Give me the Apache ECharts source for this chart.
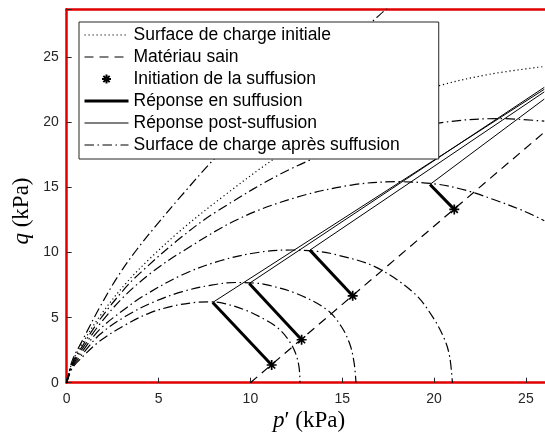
<!DOCTYPE html>
<html>
<head>
<meta charset="utf-8">
<script src="https://cdn.jsdelivr.net/npm/echarts@6/dist/echarts.min.js"></script>
<style>
html, body { margin: 0; padding: 0; background: #fff; }
#chart { width: 545px; height: 432px; }
</style>
</head>
<body>
<div id="chart"></div>
<script>
// graduations (kPa)
const pTicks = [0, 5, 10, 15, 20, 25]
const qTicks = [0, 5, 10, 15, 20, 25]

// surface de charge initiale (p', q)
const surfaceInitiale = [[0, 0], [0.3, 1.6], [0.8, 2.9], [1.8, 5.1], [3.2, 7.6], [4.5, 9.5], [6.2, 11.7], [8.5, 14.3], [11.6, 17.5], [14, 19.5], [17, 21.3], [20.2, 22.8], [23, 23.7], [26, 24.3]]

// surfaces de charge après suffusion, de la plus petite à la plus grande
const surfaceApres1 = [[0, 0], [0.3, 1.1], [0.8, 1.9], [1.8, 3.2], [3.2, 4.45], [4.5, 5.35], [5.8, 5.9], [7.0, 6.17], [7.8, 6.22], [8.6, 6.08], [9.76, 5.56], [10.8, 4.85], [11.5, 4.2], [12.07, 3.3], [12.45, 2.3], [12.65, 1.2], [12.7, 0]]
const surfaceApres2 = [[0, 0], [0.3, 1.2], [0.8, 2.1], [1.8, 3.7], [3.2, 5.1], [4.73, 6.2], [6.3, 7.0], [7.88, 7.5], [9.2, 7.7], [10.24, 7.66], [11.03, 7.48], [12.6, 6.8], [14.18, 5.6], [14.96, 4.3], [15.43, 2.9], [15.65, 1.5], [15.75, 0]]
const surfaceApres3 = [[0, 0], [0.3, 1.3], [0.8, 2.3], [1.8, 4.1], [3.15, 5.65], [4.2, 6.68], [6.3, 8.3], [8.4, 9.39], [10.5, 10.03], [12.24, 10.2], [13.65, 10.09], [14.7, 9.83], [16.8, 8.9], [18.9, 6.9], [19.95, 5.0], [20.58, 3.3], [20.85, 2.0], [21, 0]]
const surfaceApres4 = [[0, 0], [0.3, 1.4], [0.8, 2.5], [1.8, 4.5], [3.1, 6.6], [4.65, 8.5], [6.2, 10.0], [9.3, 12.55], [12.4, 14.2], [15.5, 15.19], [18.07, 15.45], [20.15, 15.26], [21.7, 14.8], [23.2, 14.1], [24.8, 13.25], [26, 12.45]]
const surfaceApres5 = [[0, 0], [0.3, 1.5], [0.8, 2.7], [1.8, 4.85], [3.2, 7.3], [4.05, 8.5], [6.08, 11.0], [8.1, 13.1], [12.15, 16.4], [16.2, 18.65], [20.25, 19.95], [23.6, 20.3], [26, 20.1]]
const surfaceApres6 = [[0, 0], [0.3, 1.7], [0.8, 3.1], [1.8, 5.8], [2.8, 8.2], [3.8, 10.2], [5.0, 12.3], [6.2, 14.3], [8.3, 17.6], [10.5, 20.5], [12.5, 23.0], [14.5, 25.3], [16.5, 27.6], [17.3, 28.6], [18, 29.45]]

// droite du matériau sain
const materiauSain = [[10, 0], [26, 19.25]]
// points d'initiation de la suffusion
const initiation = [[11.16, 1.36], [12.79, 3.3], [15.57, 6.68], [21.1, 13.32]]
// fin de la réponse en suffusion (sommets)
const sommets = [[7.95, 6.17], [9.94, 7.63], [13.24, 10.19], [19.78, 15.24]]
// fin des réponses post-suffusion (bord droit)
const finsPost = [[26, 22.55], [26, 22.7], [26, 22.35], [26, 21.8]]

const noir = '#000'
const rouge = '#e00000'
const gris = '#262626'
const invisible = 'rgba(0,0,0,0)'
const tiretPoint = [9.5, 3.5, 1.5, 3.5]
const asterisque = 'path://M5,0L5,10M0,5L10,5M1.5,1.5L8.5,8.5M1.5,8.5L8.5,1.5'

// pas de symbole dans la légende pour les courbes
const courbe = (name, data, lineStyle, smooth) => ({
  name, type: 'line', data, symbol: 'none', smooth: smooth || false,
  itemStyle: { color: invisible, borderWidth: 0 },
  lineStyle: Object.assign({ color: noir }, lineStyle)
})

const series = []
series.push(courbe('Surface de charge initiale', surfaceInitiale, { width: 1.2, type: [1.2, 2.8] }, 0.35))
;[surfaceApres1, surfaceApres2, surfaceApres3, surfaceApres4, surfaceApres5, surfaceApres6].forEach(d => {
  series.push(courbe('Surface de charge après suffusion', d, { width: 1.2, type: tiretPoint }, 0.35))
})
series.push(courbe('Matériau sain', materiauSain, { width: 1.2, type: [9, 6] }))
initiation.forEach((s, i) => {
  series.push(courbe('Réponse en suffusion', [s, sommets[i]], { width: 3 }))
  series.push(courbe('Réponse post-suffusion', [sommets[i], finsPost[i]], { width: 1 }))
})
series.push({
  name: 'Initiation de la suffusion', type: 'scatter', data: initiation, z: 5,
  symbol: asterisque, symbolSize: 10,
  itemStyle: { color: noir, borderColor: noir, borderWidth: 1.7, opacity: 1 }
})

const chart = echarts.init(document.getElementById('chart'), null, { renderer: 'canvas' })
chart.setOption({
  animation: false,
  backgroundColor: '#fff',
  grid: { left: 66.7, right: 0, top: 9.3, bottom: 49.3, outerBoundsMode: 'none' },
  xAxis: [
    {
      type: 'value', min: 0, max: 26.04, interval: 5,
      axisLine: { lineStyle: { color: rouge, width: 2.5 } },
      axisTick: { inside: true, length: 5, lineStyle: { color: gris } },
      axisLabel: {
        margin: 9, color: gris, fontFamily: 'Liberation Sans', fontSize: 14,
        formatter: v => pTicks.includes(v) ? String(v) : ''
      },
      splitLine: { show: false }
    },
    {
      type: 'value', position: 'top', min: 0, max: 26.04,
      axisLine: { show: true, lineStyle: { color: rouge, width: 2.5 } },
      axisTick: { show: false }, axisLabel: { show: false }, splitLine: { show: false }
    }
  ],
  yAxis: {
    type: 'value', min: 0, max: 28.7, interval: 5,
    axisLine: { show: true, lineStyle: { color: rouge, width: 2.5 } },
    axisTick: { show: true, inside: true, length: 5, lineStyle: { color: gris } },
    axisLabel: {
      margin: 8, color: gris, fontFamily: 'Liberation Sans', fontSize: 14,
      formatter: v => qTicks.includes(v) ? String(v) : ''
    },
    splitLine: { show: false }
  },
  legend: {
    left: 79, top: 22, orient: 'vertical',
    data: ['Surface de charge initiale', 'Matériau sain', 'Initiation de la suffusion',
      'Réponse en suffusion', 'Réponse post-suffusion', 'Surface de charge après suffusion'],
    itemWidth: 44, itemHeight: 9, itemGap: 4,
    padding: [4, 39, 5, 4],
    backgroundColor: '#fff', borderColor: gris, borderWidth: 1,
    selectedMode: false,
    lineStyle: { width: 'inherit' },
    textStyle: { color: noir, fontFamily: 'Liberation Sans', fontSize: 17.5, lineHeight: 17 }
  },
  graphic: [
    {
      type: 'text', x: 309, y: 421, z: 10,
      style: {
        text: '{i|p}′ (kPa)', fill: noir, font: '23px "Liberation Serif"',
        align: 'center', verticalAlign: 'middle',
        rich: { i: { fontStyle: 'italic', fontFamily: 'Liberation Serif', fontSize: 23 } }
      }
    },
    {
      type: 'text', x: 22, y: 211, rotation: Math.PI / 2, z: 10,
      style: {
        text: '{i|q} (kPa)', fill: noir, font: '23px "Liberation Serif"',
        align: 'center', verticalAlign: 'middle',
        rich: { i: { fontStyle: 'italic', fontFamily: 'Liberation Serif', fontSize: 23 } }
      }
    }
  ],
  series: series
})
</script>
</body>
</html>
